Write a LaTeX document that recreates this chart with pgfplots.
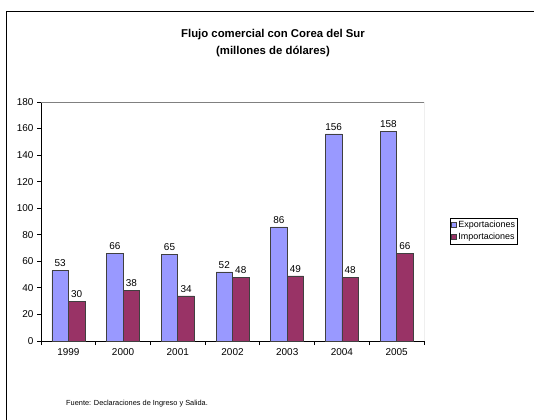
\documentclass[border=0pt]{standalone}
\usepackage{fontspec}
\setmainfont{Liberation Sans}
\usepackage{pgfplots}
\pgfplotsset{compat=1.18}
\definecolor{expo}{HTML}{9999FF}
\definecolor{impo}{HTML}{993366}

\begin{document}
\begin{tikzpicture}[x=1bp,y=1bp]
\useasboundingbox (0,0) rectangle (534,419);
% outer frame of the chart area
\draw[line width=1bp] (6,-5) -- (6,407) -- (540,407);
\node[font=\bfseries\fontsize{11.4}{16.5}\selectfont, align=center] at (273,376)
  {Flujo comercial con Corea del Sur\\(millones de dólares)};
\node[font=\fontsize{7.4}{8}\selectfont, anchor=west, inner sep=0pt] at (66,15)
  {Fuente: Declaraciones de Ingreso y Salida.};
\begin{axis}[
    at={(41bp,78bp)}, anchor=south west,
    scale only axis, width=383bp, height=239bp,
    ybar=0pt, bar width=16.5bp,
    xmin=-0.5, xmax=6.5,
    ymin=0, ymax=180, ytick={0,20,...,180},
    xtick={-0.5,0.5,...,6.5},
    x tick label as interval,
    xticklabels={1999,2000,2001,2002,2003,2004,2005},
    axis x line*=bottom, axis y line*=left,
    axis line style={-, black, line width=0.8bp},
    tick align=outside, major tick length=4bp,
    tick style={black, line width=0.8bp},
    tick label style={font=\fontsize{10}{11}\selectfont},
    /pgf/number format/assume math mode=true,
    nodes near coords,
    nodes near coords style={font=\fontsize{10}{11}\selectfont, black},
    legend style={at={(1.068,0.515)}, anchor=north west,
        font=\fontsize{9}{10}\selectfont, draw=black,
        inner xsep=1bp, inner ysep=1.5bp, row sep=2bp,
        nodes={inner xsep=1.5bp, inner ysep=1.2bp}},
    legend cell align=left,
    legend image code/.code={\draw[#1] (0bp,-2.5bp) rectangle (5bp,2.5bp);},
  ]
  \addplot[fill=expo, draw=black!75, line width=0.6bp]
    coordinates {(0,53) (1,66) (2,65) (3,52) (4,86) (5,156) (6,158)};
  \addplot[fill=impo, draw=black!75, line width=0.6bp]
    coordinates {(0,30) (1,38) (2,34) (3,48) (4,49) (5,48) (6,66)};
  \legend{Exportaciones, Importaciones}
  \draw[gray, line width=0.8bp] (rel axis cs:0,1) -- (rel axis cs:1,1) -- (rel axis cs:1,0);
\end{axis}
\end{tikzpicture}
\end{document}
